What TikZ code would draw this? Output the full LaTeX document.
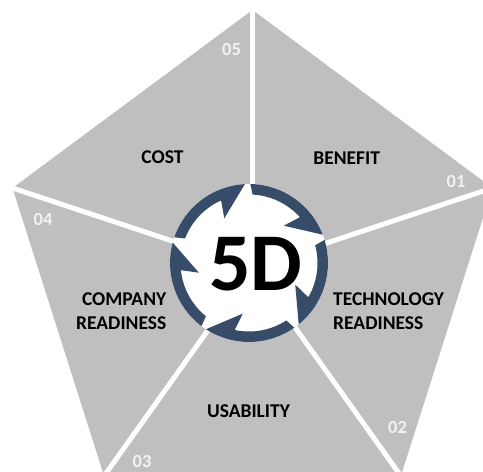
\documentclass[tikz,border=0pt]{standalone}
\usepackage{fontspec}
\setmainfont{Carlito}
\usetikzlibrary{calc}
\definecolor{pgray}{RGB}{191,191,191}
\definecolor{ringblue}{RGB}{55,76,104}
\definecolor{numcol}{RGB}{242,242,242}
\begin{document}
\begin{tikzpicture}[x=1pt,y=1pt,
  lbl/.style={font=\fontsize{19.5}{24}\selectfont\bfseries, text=black, inner sep=0pt},
  num/.style={font=\fontsize{18.5}{20}\selectfont\bfseries, text=numcol, inner sep=0pt, anchor=base},
  sepline/.style={white, line width=5pt},
  ringarrow/.style={fill=ringblue, draw=none}]
\useasboundingbox (0,0) rectangle (483,-472);
\clip (0,0) rectangle (483,-472);
\coordinate (P) at (252.5,-267.6);
\coordinate (vT) at (252.5,-10);
\coordinate (vR) at (492.5,-188);
\coordinate (vBR) at (400.9,-476);
\coordinate (vBL) at (104.1,-476);
\coordinate (vL) at (12.5,-188);
\fill[pgray] (vT) -- (vR) -- (vBR) -- (vBL) -- (vL) -- cycle;
\foreach \v in {vT,vR,vBR,vBL,vL} \draw[sepline] (P) -- (\v);
\coordinate (C) at (249,-263);
\fill[white] (C) circle (79);
\foreach \t in {93,21,-51,-123,165} {
  \fill[ringarrow] ($(C)+(\t+68:79)$) arc[start angle=\t+68, end angle=\t, radius=79]
    -- ($(C)+(\t+26:51)$) -- ($(C)+(\t+21:68.5)$)
    arc[start angle=\t+21, end angle=\t+66, radius=68.5] -- cycle;
}
\node[font=\fontsize{82}{82}\selectfont\bfseries, anchor=base, inner sep=0pt] (fiveD) at (256,-290) {5D};
\node[lbl, anchor=base] (cost) at (162.5,-163) {COST};
\node[lbl, anchor=base] (benefit) at (346.7,-164) {BENEFIT};
\node[lbl, anchor=base east, align=right] (company) at (166.5,-329) {COMPANY\\READINESS};
\node[lbl, anchor=base west, align=left] (tech) at (333,-329) {TECHNOLOGY\\READINESS};
\node[lbl, anchor=base] (usab) at (248.5,-417) {USABILITY};
\node[num] (n05) at (231.5,-55) {05};
\node[num] (n04) at (43,-225) {04};
\node[num] (n01) at (456,-187) {01};
\node[num] (n03) at (142,-467) {03};
\node[num] (n02) at (397.5,-433) {02};
\end{tikzpicture}
\end{document}
